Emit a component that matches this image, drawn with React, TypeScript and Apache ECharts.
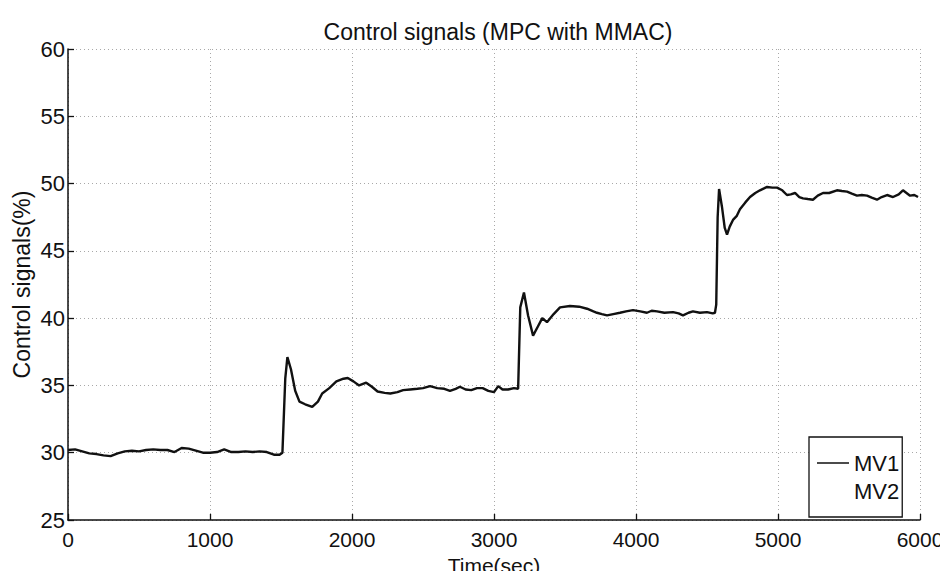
import React, { useEffect, useRef } from "react";
import * as echarts from "echarts";

// Time stamps (sec) of the MV1 trace
const timeSec: number[] = [
  0, 50, 100, 150, 200, 250, 300, 350, 400, 450, 500, 550, 600, 650, 700, 750,
  800, 850, 900, 950, 1000, 1050, 1100, 1150, 1200, 1250, 1300, 1350, 1400,
  1450, 1490, 1510, 1530, 1545, 1570, 1600, 1630, 1670, 1720, 1760, 1790, 1840,
  1890, 1940, 1970, 2010, 2050, 2100, 2140, 2180, 2230, 2270, 2320, 2360, 2410,
  2460, 2500, 2550, 2600, 2650, 2690, 2730, 2760, 2800, 2840, 2880, 2920, 2960,
  3000, 3030, 3060, 3100, 3140, 3170, 3185, 3211, 3240, 3275, 3310, 3340, 3373,
  3420, 3465, 3535, 3600, 3655, 3700, 3725, 3760, 3796, 3840, 3887, 3930, 3979,
  4030, 4077, 4110, 4148, 4200, 4261, 4300, 4331, 4370, 4401, 4450, 4500, 4540,
  4556, 4565, 4575, 4585, 4605, 4625, 4641, 4660, 4683, 4710, 4732, 4770, 4803,
  4840, 4873, 4923, 4960, 4993, 5030, 5063, 5090, 5120, 5150, 5176, 5210, 5246,
  5280, 5317, 5360, 5415, 5450, 5486, 5520, 5556, 5590, 5627, 5660, 5697, 5730,
  5768, 5810, 5850, 5880, 5905, 5930, 5960, 5986,
];

// MV1 control signal (%)
const mv1: number[] = [
  30.2, 30.25, 30.1, 29.95, 29.9, 29.8, 29.75, 29.95, 30.1, 30.15, 30.1, 30.2,
  30.25, 30.2, 30.2, 30.05, 30.35, 30.3, 30.15, 30.0, 30.0, 30.05, 30.25, 30.05,
  30.05, 30.1, 30.05, 30.1, 30.05, 29.85, 29.85, 30.0, 35.5, 37.1, 36.2, 34.6,
  33.8, 33.6, 33.4, 33.8, 34.4, 34.8, 35.3, 35.5, 35.55, 35.3, 35.0, 35.2, 34.9,
  34.55, 34.45, 34.4, 34.5, 34.65, 34.7, 34.75, 34.8, 34.95, 34.8, 34.75, 34.6,
  34.75, 34.9, 34.7, 34.65, 34.8, 34.8, 34.6, 34.5, 34.95, 34.7, 34.7, 34.8,
  34.75, 40.8, 41.9, 40.2, 38.7, 39.4, 40.0, 39.7, 40.3, 40.8, 40.9, 40.85, 40.7,
  40.5, 40.4, 40.3, 40.2, 40.3, 40.4, 40.5, 40.6, 40.5, 40.4, 40.55, 40.5, 40.4,
  40.45, 40.35, 40.2, 40.4, 40.5, 40.4, 40.45, 40.35, 40.4, 41.0, 47.5, 49.6,
  48.3, 46.7, 46.2, 46.8, 47.3, 47.6, 48.1, 48.6, 49.0, 49.3, 49.5, 49.75, 49.7,
  49.7, 49.5, 49.15, 49.2, 49.3, 49.0, 48.9, 48.85, 48.8, 49.1, 49.3, 49.3, 49.5,
  49.45, 49.4, 49.25, 49.1, 49.15, 49.1, 48.95, 48.8, 49.0, 49.15, 49.0, 49.2,
  49.5, 49.3, 49.1, 49.15, 49.0,
];

const seriesNames: string[] = ["MV1", "MV2"];

const xTicks = { min: 0, max: 6000, interval: 1000 };
const yTicks = { min: 25, max: 60, interval: 5 };

const FONT = "'Liberation Sans', Arial, sans-serif";
const INK = "#111111";

// Legend key: a thin horizontal stroke; the two specks at the corners
// pin the icon's bounding box so the stroke is not stretched vertically.
const LINE_KEY =
  "path://M0,0H0.01V0.01H0ZM0,6.3H32V7.7H0ZM31.99,13.99H32V14H31.99Z";

export default function App() {
  const ref = useRef<HTMLDivElement | null>(null);

  useEffect(() => {
    if (!ref.current) return;
    const chart = echarts.init(ref.current, undefined, { renderer: "svg" });

    const mv1Data = timeSec.map((t, i) => [t, mv1[i]]);

    chart.setOption({
      animation: false,
      backgroundColor: "#ffffff",
      title: {
        text: "Control signals (MPC with MMAC)",
        left: 493,
        top: 15,
        textAlign: "center",
        textStyle: {
          fontFamily: FONT,
          fontSize: 23,
          fontWeight: "normal",
          color: INK,
        },
      },
      legend: {
        show: true,
        left: 809,
        top: 437,
        orient: "vertical",
        backgroundColor: "#ffffff",
        borderColor: INK,
        borderWidth: 1.3,
        padding: [15, 3, 15, 8],
        itemGap: 6,
        itemWidth: 32,
        itemHeight: 14,
        textStyle: { fontFamily: FONT, fontSize: 22, color: INK },
        data: [
          { name: seriesNames[0], icon: LINE_KEY },
          {
            name: seriesNames[1],
            icon: LINE_KEY,
            itemStyle: { opacity: 0 },
            lineStyle: { opacity: 0 },
          },
        ],
      },
      grid: {
        left: 68,
        right: 28,
        top: 49,
        bottom: 59,
        containLabel: false,
        outerBoundsMode: "none",
      },
      xAxis: {
        type: "value",
        min: xTicks.min,
        max: xTicks.max,
        interval: xTicks.interval,
        name: "Time(sec)",
        nameLocation: "middle",
        nameGap: 35,
        nameMoveOverlap: false,
        nameTextStyle: { fontFamily: FONT, fontSize: 21, color: INK },
        axisLine: { show: true, onZero: false, lineStyle: { color: INK, width: 1.5 } },
        axisTick: { show: true, inside: true, length: 6, lineStyle: { color: INK, width: 1.3 } },
        axisLabel: {
          fontFamily: FONT,
          fontSize: 21,
          color: INK,
          margin: 9,
          formatter: (v: number) => String(v),
        },
        splitLine: {
          show: true,
          lineStyle: { color: "#a8a8a8", type: [1, 3], width: 1 },
        },
      },
      yAxis: {
        type: "value",
        min: yTicks.min,
        max: yTicks.max,
        interval: yTicks.interval,
        name: "Control signals(%)",
        nameLocation: "middle",
        nameGap: 35,
        nameMoveOverlap: false,
        nameRotate: 90,
        nameTextStyle: { fontFamily: FONT, fontSize: 23, color: INK },
        axisLine: { show: true, lineStyle: { color: INK, width: 1.5 } },
        axisTick: { show: true, inside: true, length: 6, lineStyle: { color: INK, width: 1.3 } },
        axisLabel: { fontFamily: FONT, fontSize: 22, color: INK, margin: 3 },
        splitLine: {
          show: true,
          lineStyle: { color: "#a8a8a8", type: [1, 3], width: 1 },
        },
      },
      series: [
        {
          name: seriesNames[0],
          type: "line",
          data: mv1Data,
          showSymbol: false,
          symbol: "none",
          lineStyle: { color: INK, width: 2.4 },
          itemStyle: { color: INK },
        },
        {
          name: seriesNames[1],
          type: "line",
          data: [],
          showSymbol: false,
          symbol: "none",
          lineStyle: { color: INK, width: 1 },
          itemStyle: { color: INK },
        },
      ],
    });

    return () => chart.dispose();
  }, []);

  return <div ref={ref} style={{ width: 948, height: 579, margin: -8 }} />;
}
